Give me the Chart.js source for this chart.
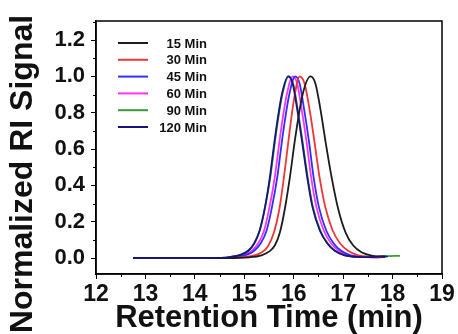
<!DOCTYPE html>
<html>
<head>
<meta charset="utf-8">
<script src="https://cdn.jsdelivr.net/npm/chart.js@4"></script>
<style>
  html, body { margin: 0; padding: 0; background: #fff; }
  #wrap { width: 458px; height: 334px; }
</style>
</head>
<body>
<div id="wrap"><canvas id="myChart" width="458" height="334"></canvas></div>
<script>
// retention time (min) and normalized RI signal for each sample
const labels = ['15 Min', '30 Min', '45 Min', '60 Min', '90 Min', '120 Min'];
const colors = ['#1c1c1c', '#f23434', '#2f2fff', '#ff30ff', '#3a9a3a', '#15157a'];

const t15 = [12.75, 13.5, 14.6, 15.1, 15.35, 15.5, 15.62, 15.72, 15.82, 15.92, 16.03, 16.18, 16.34, 16.44, 16.54, 16.65, 16.77, 16.9, 17.05, 17.2, 17.38, 17.6, 17.85];
const s15 = [0, 0, 0, 0.004, 0.015, 0.035, 0.07, 0.14, 0.27, 0.44, 0.66, 0.9, 1.0, 0.96, 0.82, 0.63, 0.44, 0.27, 0.14, 0.07, 0.03, 0.012, 0.006];

const t30 = [12.75, 13.5, 14.5, 14.95, 15.2, 15.35, 15.48, 15.6, 15.71, 15.8, 15.9, 16.01, 16.12, 16.22, 16.32, 16.42, 16.52, 16.64, 16.79, 16.94, 17.1, 17.3, 17.55, 17.8];
const s30 = [0, 0, 0, 0.004, 0.014, 0.03, 0.065, 0.14, 0.27, 0.44, 0.66, 0.88, 1.0, 0.96, 0.82, 0.64, 0.45, 0.28, 0.15, 0.08, 0.04, 0.015, 0.006, 0.004];

const t45 = [12.75, 13.5, 14.4, 14.8, 15.07, 15.2, 15.33, 15.45, 15.56, 15.67, 15.78, 15.91, 16.03, 16.12, 16.21, 16.31, 16.4, 16.51, 16.66, 16.81, 16.96, 17.15, 17.4, 17.65, 17.85];
const s45 = [0, 0, 0, 0.005, 0.02, 0.04, 0.08, 0.15, 0.28, 0.45, 0.68, 0.9, 1.0, 0.96, 0.82, 0.64, 0.45, 0.28, 0.15, 0.08, 0.04, 0.015, 0.006, 0.004, 0.006];

const t60 = [12.75, 13.5, 14.35, 14.75, 15.02, 15.15, 15.28, 15.4, 15.51, 15.62, 15.73, 15.86, 15.98, 16.07, 16.16, 16.26, 16.35, 16.46, 16.61, 16.76, 16.91, 17.1, 17.35, 17.6, 17.85];
const s60 = [0, 0, 0, 0.005, 0.02, 0.04, 0.08, 0.15, 0.28, 0.45, 0.68, 0.9, 1.0, 0.96, 0.82, 0.64, 0.45, 0.28, 0.15, 0.08, 0.04, 0.015, 0.006, 0.004, 0.006];

const t90 = [12.75, 13.5, 14.3, 14.7, 14.95, 15.08, 15.2, 15.31, 15.42, 15.53, 15.64, 15.77, 15.9, 15.99, 16.08, 16.18, 16.28, 16.39, 16.54, 16.69, 16.84, 17.04, 17.3, 17.6, 17.9, 18.15];
const s90 = [0, 0, 0, 0.005, 0.02, 0.04, 0.08, 0.15, 0.28, 0.45, 0.68, 0.9, 1.0, 0.96, 0.82, 0.64, 0.45, 0.28, 0.15, 0.08, 0.04, 0.015, 0.008, 0.008, 0.01, 0.012];

const t120 = [12.75, 13.5, 14.3, 14.7, 14.95, 15.08, 15.2, 15.31, 15.42, 15.52, 15.63, 15.76, 15.89, 15.98, 16.07, 16.17, 16.27, 16.38, 16.53, 16.68, 16.83, 17.03, 17.3, 17.6, 17.8, 17.9];
const s120 = [0, 0, 0, 0.005, 0.02, 0.04, 0.08, 0.15, 0.28, 0.45, 0.68, 0.9, 1.0, 0.96, 0.82, 0.64, 0.45, 0.28, 0.15, 0.08, 0.04, 0.015, 0.006, 0.005, 0.01, 0.008];

const xTicks = [12, 13, 14, 15, 16, 17, 18, 19];
const yTicks = [0.0, 0.2, 0.4, 0.6, 0.8, 1.0, 1.2];
const yTitle = 'Normalized RI Signal';

const times = [t15, t30, t45, t60, t90, t120];
const signals = [s15, s30, s45, s60, s90, s120];
const drawOrder = [1, 2, 3, 4, 5, 0];

const FONT = "'Liberation Sans', Arial, sans-serif";

const pairs = (xs, ys) => xs.map((x, i) => ({ x: x, y: ys[i] }));

// frame, minor ticks, y title (it runs past the plot height) and the in-plot legend
const extras = {
  id: 'extras',
  afterDraw(chart) {
    const ctx = chart.ctx;
    const a = chart.chartArea;
    const xs = chart.scales.x, ys = chart.scales.y;
    ctx.save();
    ctx.strokeStyle = '#000';
    ctx.lineWidth = 1.5;
    ctx.strokeRect(a.left, a.top, a.right - a.left, a.bottom - a.top);
    ctx.lineWidth = 1;
    ctx.beginPath();
    for (let i = 0; i < xTicks.length - 1; i++) {
      const px = Math.round(xs.getPixelForValue(xTicks[i] + 0.5)) + 0.5;
      ctx.moveTo(px, a.bottom);
      ctx.lineTo(px, a.bottom + 3);
    }
    for (let i = 0; i < yTicks.length; i++) {
      for (const v of [yTicks[i] - 0.1, yTicks[i] + 0.1]) {
        if (v < ys.min || v > ys.max) continue;
        const py = Math.round(ys.getPixelForValue(v)) + 0.5;
        ctx.moveTo(a.left, py);
        ctx.lineTo(a.left - 3, py);
      }
    }
    ctx.stroke();

    ctx.save();
    ctx.translate(23, 174);
    ctx.rotate(-Math.PI / 2);
    ctx.font = 'bold 32px ' + FONT;
    ctx.fillStyle = '#111';
    ctx.textAlign = 'center';
    ctx.textBaseline = 'middle';
    ctx.fillText(yTitle, 0, 0);
    ctx.restore();

    ctx.font = 'bold 13px ' + FONT;
    ctx.textAlign = 'right';
    ctx.textBaseline = 'middle';
    chart.data.datasets.forEach((ds, i) => {
      const y = 43 + i * 16.8;
      ctx.strokeStyle = ds.borderColor;
      ctx.lineWidth = 2;
      ctx.beginPath();
      ctx.moveTo(118, y);
      ctx.lineTo(148, y);
      ctx.stroke();
      ctx.fillStyle = '#111';
      ctx.fillText(ds.label, 207, y + 1);
    });
    ctx.restore();
  }
};

new Chart(document.getElementById('myChart'), {
  type: 'scatter',
  data: {
    datasets: labels.map((lab, i) => ({
      label: lab,
      data: pairs(times[i], signals[i]),
      showLine: true,
      borderColor: colors[i],
      backgroundColor: colors[i],
      borderWidth: 1.8,
      pointRadius: 0,
      cubicInterpolationMode: 'monotone',
      order: drawOrder[i]
    }))
  },
  options: {
    responsive: false,
    animation: false,
    layout: { padding: { top: 21, right: 16, left: 0, bottom: 0 } },
    plugins: {
      legend: { display: false },
      tooltip: { enabled: false }
    },
    scales: {
      x: {
        type: 'linear',
        position: 'bottom',
        min: 12,
        max: 19,
        afterBuildTicks: s => { s.ticks = xTicks.map(v => ({ value: v })); },
        afterFit: s => { s.height = 60; },
        grid: { drawOnChartArea: false, tickLength: 5, color: '#000', tickColor: '#000' },
        border: { color: '#000', width: 1.5 },
        ticks: {
          color: '#111',
          padding: 2,
          maxRotation: 0,
          autoSkip: false,
          font: { family: FONT, size: 23, weight: 'bold' },
          callback: v => String(v)
        },
        title: {
          display: true,
          text: 'Retention Time (min)',
          color: '#111',
          padding: { top: 0, bottom: 0 },
          font: { family: FONT, size: 31, weight: 'bold', lineHeight: 1 }
        }
      },
      y: {
        type: 'linear',
        min: -0.088,
        max: 1.305,
        afterBuildTicks: s => { s.ticks = yTicks.map(v => ({ value: v })); },
        afterFit: s => { s.width = 96; },
        grid: { drawOnChartArea: false, tickLength: 5, color: '#000', tickColor: '#000' },
        border: { color: '#000', width: 1.5 },
        ticks: {
          color: '#111',
          padding: 6,
          autoSkip: false,
          font: { family: FONT, size: 22, weight: 'bold' },
          callback: v => v.toFixed(1)
        }
      }
    }
  },
  plugins: [extras]
});
</script>
</body>
</html>
